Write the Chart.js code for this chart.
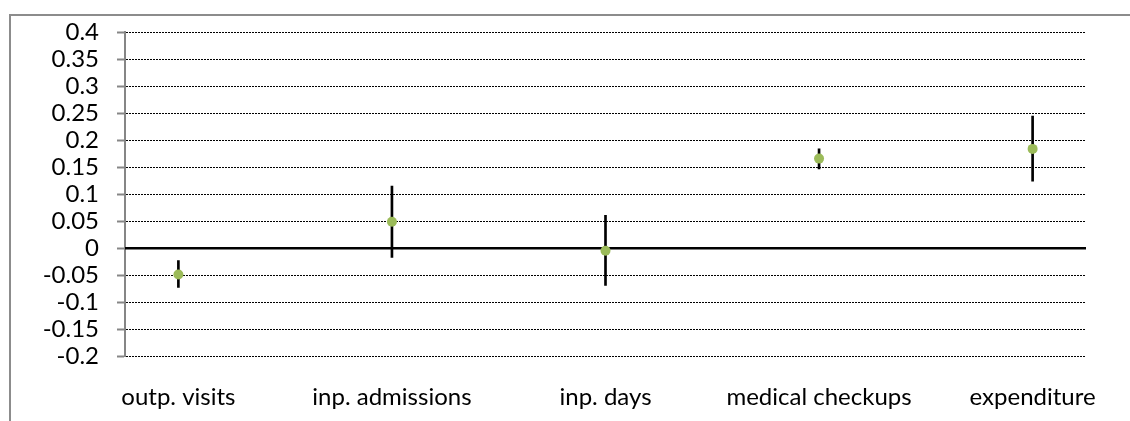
<!DOCTYPE html>
<html>
<head>
<meta charset="utf-8">
<script src="https://cdn.jsdelivr.net/npm/chart.js@4/dist/chart.umd.min.js"></script>
<style>
  html, body { margin: 0; padding: 0; background: #fff; overflow: hidden; }
  #wrap { position: relative; width: 1130px; height: 421px; }
  #frame {
    position: absolute; left: 9px; top: 14px; width: 1140px; height: 430px;
    border: 2px solid #8c8c8c; box-sizing: border-box; pointer-events: none;
  }
  canvas { position: absolute; left: 0; top: 0; }
</style>
</head>
<body>
<div id="wrap">
  <canvas id="c" width="1130" height="421"></canvas>
  <div id="frame"></div>
</div>
<script>
// Outcomes on the horizontal axis
const categories = ['outp. visits', 'inp. admissions', 'inp. days', 'medical checkups', 'expenditure'];
// Point estimates and the ends of their confidence intervals
const estimates = [-0.049, 0.049, -0.005, 0.166, 0.184];
const lower     = [-0.073, -0.017, -0.069, 0.147, 0.124];
const upper     = [-0.023, 0.115, 0.061, 0.184, 0.245];
// Value axis ticks
const yTicks = [-0.2, -0.15, -0.1, -0.05, 0, 0.05, 0.1, 0.15, 0.2, 0.25, 0.3, 0.35, 0.4];

const FONT = "Lato, 'DejaVu Sans', sans-serif";

// Solid black line along zero, under the markers
const zeroLine = {
  id: 'zeroLine',
  beforeDatasetsDraw(chart) {
    const { ctx, chartArea, scales } = chart;
    const y = scales.y.getPixelForValue(0);
    ctx.save();
    ctx.strokeStyle = '#000';
    ctx.lineWidth = 2.5;
    ctx.beginPath();
    ctx.moveTo(chartArea.left, y);
    ctx.lineTo(chartArea.right, y);
    ctx.stroke();
    ctx.restore();
  }
};

new Chart(document.getElementById('c'), {
  type: 'scatter',
  data: {
    datasets: [
      {
        type: 'scatter',
        data: categories.map((c, i) => ({ x: i, y: estimates[i] })),
        backgroundColor: '#9bbb59',
        borderColor: '#9bbb59',
        borderWidth: 0,
        pointRadius: 5,
        order: 0
      },
      {
        type: 'bar',
        data: categories.map((c, i) => ({ x: i, y: [lower[i], upper[i]] })),
        backgroundColor: '#000',
        borderWidth: 0,
        barThickness: 2,
        grouped: false,
        order: 1
      }
    ]
  },
  options: {
    responsive: false,
    animation: false,
    devicePixelRatio: 1,
    layout: { padding: { left: 0, right: 44, top: 30, bottom: 0 } },
    plugins: { legend: { display: false }, tooltip: { enabled: false } },
    scales: {
      x: {
        type: 'linear',
        min: -0.25,
        max: 4.25,
        offset: false,
        grid: { display: false, drawTicks: false, offset: false },
        border: { display: false },
        afterBuildTicks: s => { s.ticks = categories.map((c, i) => ({ value: i })); },
        afterFit: s => { s.height = 65; },
        ticks: {
          autoSkip: false,
          maxRotation: 0,
          minRotation: 0,
          padding: 27,
          color: '#000',
          font: { family: FONT, size: 24 },
          callback: v => categories[v]
        }
      },
      y: {
        type: 'linear',
        min: -0.2,
        max: 0.4,
        afterBuildTicks: s => { s.ticks = yTicks.map(v => ({ value: v })); },
        afterFit: s => { s.width = 125; },
        grid: {
          color: '#000',
          lineWidth: 1,
          drawTicks: true,
          tickLength: 8,
          tickColor: '#868686',
          tickWidth: 2,
          tickBorderDash: []
        },
        border: { display: true, color: '#868686', width: 2, dash: [2, 1] },
        ticks: {
          autoSkip: false,
          padding: 18,
          color: '#000',
          font: { family: FONT, size: 24 },
          callback: v => String(parseFloat(Number(v).toFixed(2)))
        }
      }
    }
  },
  plugins: [zeroLine]
});
</script>
</body>
</html>
